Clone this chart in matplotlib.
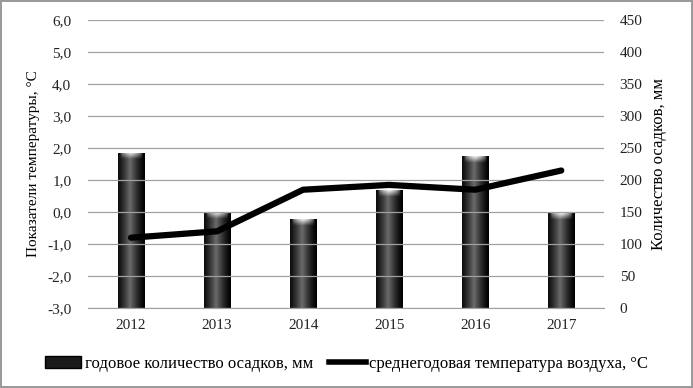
import matplotlib
matplotlib.use("Agg")
import matplotlib.pyplot as plt
import numpy as np
from matplotlib.patches import Rectangle
from matplotlib.lines import Line2D

years = ["2012", "2013", "2014", "2015", "2016", "2017"]
precip = [243, 150, 139, 184, 237, 148]          # mm
temp = [-0.8, -0.6, 0.7, 0.85, 0.7, 1.3]          # °C

plt.rcParams['font.family'] = ['Liberation Serif', 'DejaVu Serif']

fig = plt.figure(figsize=(6.93, 3.88), dpi=100)
fig.patch.set_edgecolor('#9a9a9a')
fig.patch.set_linewidth(1.5)

ax = fig.add_axes([0.127, 0.206, 0.745, 0.742])
ax2 = ax.twinx()

x = np.arange(len(years))

# bars on right axis, black with a glossy gradient
bars = ax2.bar(x, precip, width=0.31, color='#111111', zorder=2)
cols = np.linspace(0, 1, 64)
across = 0.42 * np.clip(1 - np.abs(cols - 0.45) / 0.55, 0, 1) ** 1.3
for b in bars:
    x0, w, h = b.get_x(), b.get_width(), b.get_height()
    rows = np.linspace(0, h, 300)            # bottom -> top in data units
    depth = h - rows                          # distance from top
    top = np.clip(1 - depth / 10.0, 0, 1)
    inner = np.clip(1 - np.abs(cols - 0.5) / 0.42, 0, 1) ** 0.5
    img = across[None, :] + top[:, None] * inner[None, :] * (0.95 - across[None, :])
    img = np.clip(img, 0, 1)
    im = ax2.imshow(img, cmap='gray', vmin=0, vmax=1, aspect='auto',
                    origin='lower', extent=[x0, x0 + w, 0, h], zorder=3)
    im.set_clip_path(b)

ax2.set_ylim(0, 450)
ax2.set_yticks(np.arange(0, 451, 50))
ax2.set_xlim(-0.5, len(years) - 0.5)

# line on left axis, drawn above the bars
ax.set_zorder(ax2.get_zorder() + 1)
ax.patch.set_visible(False)
ax.plot(x, temp, color='black', linewidth=4.5, solid_capstyle='round', zorder=5)
ax.set_ylim(-3, 6)
ax.set_yticks(np.arange(-3, 6.1, 1))
ax.set_yticklabels([f"{v:.1f}".replace('.', ',') for v in np.arange(-3, 6.1, 1)])
ax.set_xlim(-0.5, len(years) - 0.5)
ax.set_xticks(x)
ax.set_xticklabels(years)
ax.grid(axis='y', color='#a0a0a0', linewidth=0.9)
ax.set_axisbelow(True)

for a in (ax, ax2):
    for s in a.spines.values():
        s.set_visible(False)
    a.tick_params(length=0, labelsize=11, colors='#222222')
ax.tick_params(axis='y', pad=12)
ax2.tick_params(axis='y', pad=11)
ax.tick_params(axis='x', pad=8)
ax.spines['bottom'].set_visible(True)
ax.spines['bottom'].set_color('#a0a0a0')

ax.set_ylabel("Показатели температуры, °С", fontsize=11, labelpad=5)
ax2.set_ylabel("Количество осадков, мм", fontsize=12, labelpad=6)

handles = [Rectangle((0, 0), 1, 1, facecolor='#1a1a1a', edgecolor='black'),
           Line2D([0], [0], color='black', linewidth=4)]
fig.legend(handles, ["годовое количество осадков, мм",
                     "среднегодовая температура воздуха, °С"],
           loc='center', bbox_to_anchor=(0.5, 0.062), ncol=2, frameon=False,
           fontsize=12, handlelength=2.2, handletextpad=0.2, columnspacing=1.0)

fig.savefig("out.png", dpi=100, edgecolor=fig.get_edgecolor())
